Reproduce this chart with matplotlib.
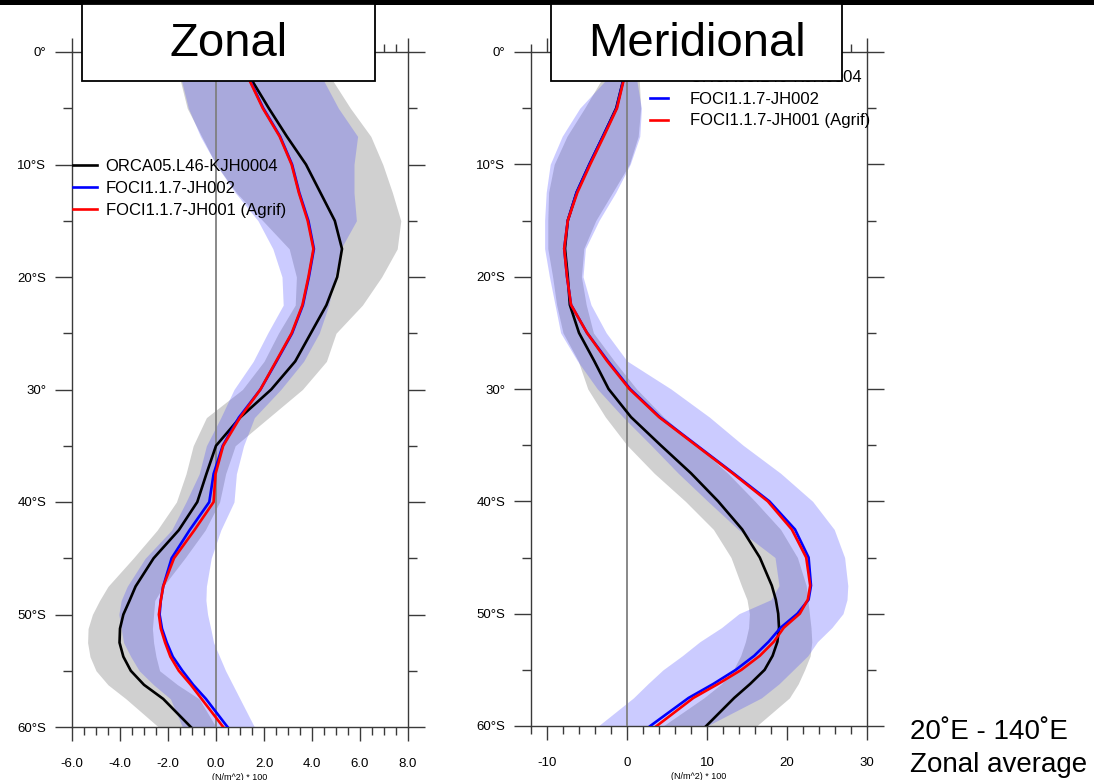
import matplotlib
matplotlib.use("Agg")
import matplotlib.pyplot as plt
from matplotlib.patches import Rectangle
from matplotlib.ticker import MultipleLocator

plt.rcParams['font.family'] = ['Liberation Sans', 'DejaVu Sans']
plt.rcParams['axes.unicode_minus'] = False

# latitude (negative = south)
lat = [-2, -5, -7.5, -10, -12.5, -15, -17.5, -20, -22.5, -25, -27.5, -30,
       -32.5, -35, -37.5, -40, -42.5, -45, -47.5, -48.75, -50, -51.25, -52.5,
       -53.75, -55, -56.25, -57.5, -60]

series_names = ['ORCA05.L46-KJH0004', 'FOCI1.1.7-JH002', 'FOCI1.1.7-JH001 (Agrif)']
lat_ticks = [0, -10, -20, -30, -40, -50, -60]
lat_labels = ['0°', '10°S', '20°S', '30°', '40°S', '50°S', '60°S']

# ---- zonal wind stress (N/m^2 * 100)
zon_orca = [1.35, 2.2, 2.95, 3.75, 4.35, 4.95, 5.25, 5.05, 4.6, 3.95, 3.3, 2.3,
            1.0, 0.0, -0.4, -0.78, -1.55, -2.6, -3.35, -3.6, -3.86, -4.0, -4.02,
            -3.86, -3.55, -3.0, -2.2, -1.05]
zon_jh002 = [1.3, 1.97, 2.67, 3.17, 3.47, 3.85, 4.08, 3.87, 3.62, 3.17, 2.52, 1.85,
             0.95, 0.28, -0.1, -0.28, -1.1, -1.85, -2.2, -2.3, -2.35, -2.25, -2.05,
             -1.8, -1.4, -0.95, -0.42, 0.48]
zon_jh001 = [1.28, 1.95, 2.65, 3.15, 3.45, 3.82, 4.06, 3.85, 3.6, 3.15, 2.5, 1.85,
             1.0, 0.3, -0.02, -0.1, -0.9, -1.75, -2.2, -2.3, -2.38, -2.3, -2.12,
             -1.9, -1.55, -1.05, -0.6, 0.3]
zon_orca_lo = [-1.55, -1.2, -0.6, 0.0, 0.85, 1.95, 3.05, 3.35, 3.3, 2.6, 2.0, 1.1,
               -0.4, -0.95, -1.25, -1.65, -2.45, -3.45, -4.5, -4.85, -5.15, -5.33, -5.35,
               -5.25, -5.0, -4.5, -3.75, -2.4]
zon_orca_hi = [4.7, 5.6, 6.45, 6.95, 7.35, 7.7, 7.55, 6.9, 6.1, 5.0, 4.6, 3.6,
               2.2, 0.8, 0.4, 0.15, -0.45, -1.3, -2.2, -2.55, -2.6, -2.65, -2.6,
               -2.5, -2.35, -1.6, -0.7, 0.0]
zon_foci_lo = [-1.5, -1.15, -0.65, 0.0, 0.8, 1.75, 2.37, 2.75, 2.8, 2.15, 1.55, 0.75,
               0.2, -0.4, -0.7, -1.25, -1.85, -2.95, -3.7, -3.95, -4.05, -3.95, -3.85,
               -3.55, -3.2, -2.6, -1.9, -1.4]
zon_foci_hi = [4.35, 5.1, 5.9, 5.75, 5.75, 5.85, 5.2, 4.95, 4.7, 4.3, 3.65, 2.7,
               1.6, 1.15, 0.85, 0.75, 0.2, -0.2, -0.4, -0.42, -0.35, -0.22, -0.1,
               0.15, 0.4, 0.7, 1.0, 1.6]

# ---- meridional wind stress (N/m^2 * 100)
mer_orca = [-0.3, -1.35, -3.0, -4.7, -6.3, -7.4, -7.75, -7.4, -7.15, -6.0, -4.1, -2.3,
            0.5, 4.2, 8.0, 11.4, 14.4, 16.6, 18.1, 18.6, 18.9, 19.0, 18.8,
            18.2, 17.2, 15.4, 13.4, 9.9]
mer_jh002 = [-0.3, -1.3, -3.0, -4.7, -6.3, -7.4, -7.85, -7.5, -7.0, -5.0, -2.4, 0.4,
             4.1, 8.7, 13.3, 17.8, 21.0, 22.7, 23.0, 22.7, 21.3, 19.2, 17.7,
             15.9, 13.6, 10.8, 7.7, 2.9]
mer_jh001 = [-0.25, -1.25, -2.9, -4.6, -6.2, -7.4, -7.85, -7.5, -7.0, -5.0, -2.5, 0.3,
             4.0, 8.6, 13.2, 17.6, 20.6, 22.4, 22.9, 22.6, 21.6, 19.6, 18.35,
             16.6, 14.3, 11.4, 8.3, 3.7]
mer_orca_lo = [-2.8, -5.3, -7.5, -9.1, -9.8, -9.9, -9.9, -9.3, -8.8, -8.0, -6.1, -4.9,
               -2.7, 0.0, 3.4, 7.3, 10.8, 13.0, 14.3, 15.0, 15.3, 15.2, 14.8,
               14.2, 13.3, 11.8, 9.6, 4.5]
mer_orca_hi = [1.5, 1.7, 1.4, 0.3, -1.8, -3.9, -5.4, -5.7, -5.1, -4.2, -1.6, 1.2,
               4.6, 8.7, 12.6, 16.0, 19.2, 21.3, 22.4, 22.6, 22.8, 23.0, 23.1,
               22.9, 22.2, 21.4, 20.3, 16.2]
mer_foci_lo = [-2.0, -5.9, -8.1, -9.6, -10.1, -10.3, -10.3, -9.7, -9.0, -8.3, -6.2, -3.7,
               -0.5, 3.0, 6.4, 10.1, 13.9, 18.5, 19.0, 18.0, 14.0, 11.8, 9.1,
               6.9, 4.5, 2.6, 0.8, -3.6]
mer_foci_hi = [1.1, 1.8, 1.6, 0.4, -1.4, -3.5, -5.2, -5.5, -4.5, -2.6, 0.0, 5.5,
               10.3, 14.5, 19.2, 23.2, 25.9, 27.2, 27.6, 27.5, 27.0, 25.6, 23.8,
               22.6, 20.8, 19.0, 16.8, 10.0]

W, H = 1094, 780
fig = plt.figure(figsize=(W / 100, H / 100), dpi=100)
fig.patch.set_facecolor('white')

frame_col = '#3a3a3a'


def draw_panel(ax, orca, jh002, jh001, olo, ohi, flo, fhi):
    ax.fill_betweenx(lat, olo, ohi, color='#d0d0d0', lw=0, zorder=1)
    ax.fill_betweenx(lat, flo, fhi, color='#4242ff', alpha=0.27, lw=0, zorder=2)
    ax.axvline(0, color='#808080', lw=1.3, zorder=3)
    l1, = ax.plot(orca, lat, color='black', lw=1.9, zorder=4)
    l2, = ax.plot(jh002, lat, color='blue', lw=1.9, zorder=5)
    l3, = ax.plot(jh001, lat, color='red', lw=1.9, zorder=6)
    ax.set_ylim(-60, 0)
    ax.set_yticks(lat_ticks, lat_labels)
    ax.yaxis.set_minor_locator(MultipleLocator(5))
    ax.tick_params(axis='both', which='both', direction='out', top=True, right=True,
                   color=frame_col, labelsize=9.5)
    ax.tick_params(axis='x', which='major', length=10, width=1.0, pad=12.5)
    ax.tick_params(axis='x', which='minor', length=6, width=1.0)
    ax.tick_params(axis='y', which='major', length=12.5, width=1.0, pad=6)
    ax.tick_params(axis='y', which='minor', length=6.5, width=1.0)
    for s in ax.spines.values():
        s.set_color(frame_col)
        s.set_linewidth(1.0)
    ax.set_xlabel('(N/m^2) * 100', fontsize=6.5, labelpad=2)
    return [l1, l2, l3]


# axes rectangles from pixel positions
def px_axes(x0, x1, y_top, y_bot):
    return fig.add_axes([x0 / W, 1 - y_bot / H, (x1 - x0) / W, (y_bot - y_top) / H])


ax1 = px_axes(72, 408, 52, 727)
h = draw_panel(ax1, zon_orca, zon_jh002, zon_jh001,
               zon_orca_lo, zon_orca_hi, zon_foci_lo, zon_foci_hi)
ax1.set_xlim(-6, 8)
ax1.set_xticks([-6, -4, -2, 0, 2, 4, 6, 8], ['-6.0', '-4.0', '-2.0', '0.0', '2.0', '4.0', '6.0', '8.0'])
ax1.xaxis.set_minor_locator(MultipleLocator(0.5))
ax1.legend(h, series_names, loc='upper left', bbox_to_anchor=(0.003, 0.841),
           frameon=False, fontsize=12, borderpad=0, borderaxespad=0,
           handlelength=1.45, handletextpad=0.5, labelspacing=0.41)

ax2 = px_axes(531, 867, 52, 726)
h = draw_panel(ax2, mer_orca, mer_jh002, mer_jh001,
               mer_orca_lo, mer_orca_hi, mer_foci_lo, mer_foci_hi)
ax2.set_xlim(-12, 30)
ax2.set_xticks([-10, 0, 10, 20, 30], ['-10', '0', '10', '20', '30'])
ax2.xaxis.set_minor_locator(MultipleLocator(2))
ax2.legend(h, series_names, loc='upper left', bbox_to_anchor=(0.354, 0.9726),
           frameon=False, fontsize=12, borderpad=0, borderaxespad=0,
           handlelength=1.08, handletextpad=1.3, labelspacing=0.39)

# slide decorations: top bar, title boxes, region note
fig.add_artist(Rectangle((0, 1 - 5 / H), 1, 5 / H, transform=fig.transFigure,
                         facecolor='black', edgecolor='none', zorder=9))
for x0, x1, title in [(82, 375, 'Zonal'), (551, 842, 'Meridional')]:
    fig.add_artist(Rectangle((x0 / W, 1 - 81 / H), (x1 - x0) / W, 77 / H,
                             transform=fig.transFigure, facecolor='white',
                             edgecolor='black', lw=1.3, zorder=10))
    fig.text((x0 + x1) / 2 / W, 1 - 44 / H, title, fontsize=34,
             ha='center', va='center', zorder=11)

fig.text(910 / W, 1 - 732 / H, '20˚E - 140˚E', fontsize=20, ha='left', va='center')
fig.text(910 / W, 1 - 765 / H, 'Zonal average', fontsize=20, ha='left', va='center')

fig.savefig('out.png', dpi=100)
